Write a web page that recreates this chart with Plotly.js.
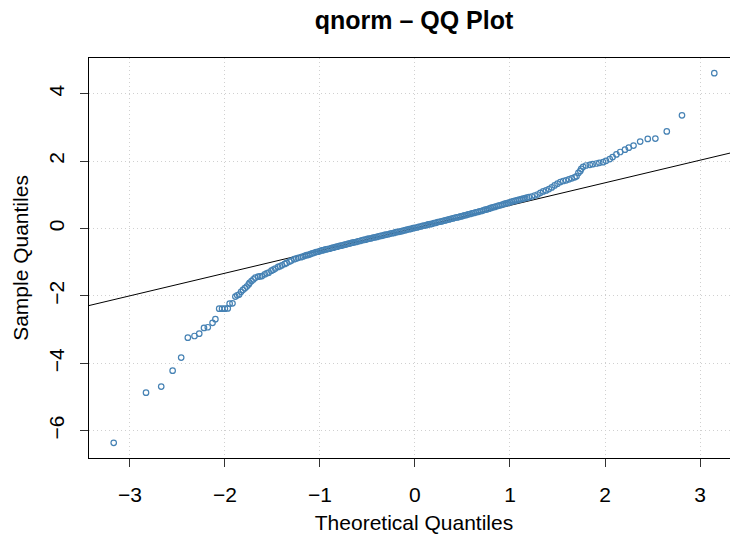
<!DOCTYPE html>
<html>
<head>
<meta charset="utf-8">
<script src="https://cdn.plot.ly/plotly-3.0.1.min.js"></script>
<style>html,body{margin:0;padding:0;background:#fff;overflow:hidden;}#chart{width:754px;height:537px;}</style>
</head>
<body>
<div id="chart"></div>
<script>
// Theoretical quantiles (x) and sample quantiles (y)
const lowerTailX = [-3.17,-2.83,-2.67,-2.55,-2.46,-2.39,-2.32,-2.27,-2.22,-2.18,-2.13,-2.10,-2.06,-2.03,-2.00,-1.97,-1.95,-1.92,-1.89,-1.87,-1.85,-1.83];
const lowerTailY = [-6.36,-4.87,-4.69,-4.22,-3.83,-3.24,-3.19,-3.12,-2.95,-2.93,-2.80,-2.69,-2.38,-2.38,-2.38,-2.37,-2.23,-2.22,-2.02,-1.98,-1.96,-1.88];

const lowerShoulderX = [-1.81,-1.79,-1.77,-1.75,-1.74,-1.72,-1.70,-1.68,-1.65,-1.63,-1.61,-1.58,-1.56,-1.54,-1.51,-1.49,-1.47,-1.44,-1.42,-1.40,-1.37,-1.35,-1.32,-1.30,-1.27,-1.25,-1.23];
const lowerShoulderY = [-1.82,-1.77,-1.72,-1.66,-1.61,-1.56,-1.51,-1.46,-1.43,-1.42,-1.41,-1.36,-1.33,-1.31,-1.25,-1.22,-1.19,-1.14,-1.12,-1.09,-1.05,-1.02,-0.98,-0.95,-0.91,-0.89,-0.87];

const centerX = [-1.20,-1.18,-1.16,-1.14,-1.12,-1.10,-1.08,-1.06,-1.04,-1.02,-1.00,-0.98,-0.96,-0.94,-0.92,-0.90,-0.88,-0.86,-0.84,-0.82,-0.80,-0.78,-0.76,-0.74,-0.72,-0.70,-0.68,-0.66,-0.64,-0.62,-0.60,-0.58,-0.56,-0.54,-0.52,-0.50,-0.48,-0.46,-0.44,-0.42,-0.40,-0.38,-0.36,-0.34,-0.32,-0.30,-0.28,-0.26,-0.24,-0.22,-0.20,-0.18,-0.16,-0.14,-0.12,-0.10,-0.08,-0.06,-0.04,-0.02,0.00,0.02,0.04,0.06,0.08,0.10,0.12,0.14,0.16,0.18,0.20,0.22,0.24,0.26,0.28,0.30,0.32,0.34,0.36,0.38,0.40,0.42,0.44,0.46,0.48,0.50,0.52,0.54,0.56,0.58,0.60,0.62,0.64,0.66,0.68,0.70,0.72,0.74,0.76,0.78,0.80,0.82,0.84,0.86,0.88,0.90,0.92,0.94,0.96,0.98,1.00,1.02,1.04,1.06,1.08,1.10,1.12,1.14,1.16,1.18,1.20];
const centerY = [-0.85,-0.83,-0.81,-0.79,-0.78,-0.76,-0.74,-0.72,-0.70,-0.69,-0.67,-0.65,-0.64,-0.62,-0.61,-0.60,-0.58,-0.57,-0.55,-0.54,-0.52,-0.51,-0.50,-0.48,-0.47,-0.45,-0.44,-0.42,-0.41,-0.40,-0.38,-0.37,-0.35,-0.34,-0.33,-0.31,-0.30,-0.29,-0.27,-0.26,-0.25,-0.23,-0.22,-0.21,-0.19,-0.18,-0.17,-0.15,-0.14,-0.13,-0.11,-0.10,-0.09,-0.08,-0.06,-0.05,-0.03,-0.02,-0.01,0.01,0.02,0.03,0.05,0.06,0.08,0.09,0.10,0.12,0.13,0.14,0.16,0.17,0.19,0.20,0.21,0.23,0.24,0.26,0.27,0.29,0.30,0.32,0.33,0.34,0.36,0.37,0.39,0.40,0.42,0.43,0.45,0.46,0.48,0.49,0.51,0.52,0.54,0.56,0.57,0.59,0.61,0.63,0.64,0.66,0.68,0.69,0.71,0.73,0.75,0.76,0.78,0.80,0.81,0.83,0.84,0.86,0.87,0.89,0.90,0.92,0.93];

const upperShoulderX = [1.23,1.26,1.29,1.32,1.35,1.38,1.41,1.44,1.47,1.50,1.53,1.56,1.59,1.62,1.65,1.68,1.70];
const upperShoulderY = [0.95,0.98,1.01,1.06,1.10,1.13,1.17,1.22,1.28,1.33,1.38,1.41,1.43,1.46,1.49,1.52,1.55];

const upperTailX = [1.72,1.74,1.75,1.77,1.80,1.84,1.87,1.91,1.94,1.98,2.01,2.05,2.08,2.12,2.16,2.21,2.25,2.30,2.37,2.45,2.53,2.65,2.81,3.15];
const upperTailY = [1.65,1.71,1.77,1.83,1.87,1.89,1.91,1.93,1.95,1.97,2.01,2.06,2.12,2.20,2.27,2.34,2.40,2.46,2.58,2.66,2.67,2.88,3.36,4.61];

// Reference line (qqline) end points
const lineX = [-3.6, 3.6];
const lineY = [-2.40, 2.43];

const xTicks = [-3,-2,-1,0,1,2,3];
const xTickText = ['\u22123','\u22122','\u22121','0','1','2','3'];
const yTicks = [-6,-4,-2,0,2,4];
const yTickText = ['\u22126','\u22124','\u22122','0','2','4'];

const titleText = 'qnorm \u2013 QQ Plot';
const xTitle = 'Theoretical Quantiles';
const yTitle = 'Sample Quantiles';

const sampleX = [].concat(lowerTailX, lowerShoulderX, centerX, upperShoulderX, upperTailX);
const sampleY = [].concat(lowerTailY, lowerShoulderY, centerY, upperShoulderY, upperTailY);

const FONT = 'Liberation Sans, Arial, Helvetica, sans-serif';

const traces = [
  {
    x: lineX, y: lineY, type: 'scatter', mode: 'lines',
    line: {color: '#000000', width: 1}, hoverinfo: 'skip', showlegend: false
  },
  {
    x: sampleX, y: sampleY, type: 'scatter', mode: 'markers',
    marker: {symbol: 'circle-open', size: 5.5, color: '#4682B4', line: {width: 1.2, color: '#4682B4'}},
    showlegend: false, cliponaxis: false
  }
];

const axisCommon = {
  showline: true, linecolor: '#000000', linewidth: 1, mirror: true,
  ticks: 'outside', ticklen: 8, tickwidth: 1, tickcolor: '#333333',
  showgrid: true, gridcolor: '#d0d0d0', griddash: '1px,3px', gridwidth: 1,
  zeroline: false, tickfont: {family: FONT, size: 21, color: '#000000'}
};

const layout = {
  width: 754, height: 537,
  margin: {l: 89, r: 15, t: 58, b: 79},
  paper_bgcolor: '#ffffff', plot_bgcolor: '#ffffff',
  title: {text: '<b>' + titleText + '</b>', font: {family: FONT, size: 25, color: '#000000'}, xref: 'paper', x: 0.5, xanchor: 'center', yref: 'container', y: 0.962, yanchor: 'middle'},
  xaxis: Object.assign({}, axisCommon, {
    range: [-3.43, 3.41], tickvals: xTicks, ticktext: xTickText,
    ticklabelstandoff: 10,
    title: {text: xTitle, font: {family: FONT, size: 21, color: '#000000'}, standoff: 10}
  }),
  yaxis: Object.assign({}, axisCommon, {
    range: [-6.81, 5.06], tickvals: yTicks, ticktext: yTickText, tickangle: -90,
    ticklabelstandoff: 8,
    title: {text: yTitle, font: {family: FONT, size: 21, color: '#000000'}, standoff: 10}
  }),
  showlegend: false
};

Plotly.newPlot('chart', traces, layout, {displayModeBar: false, staticPlot: true});
</script>
</body>
</html>
